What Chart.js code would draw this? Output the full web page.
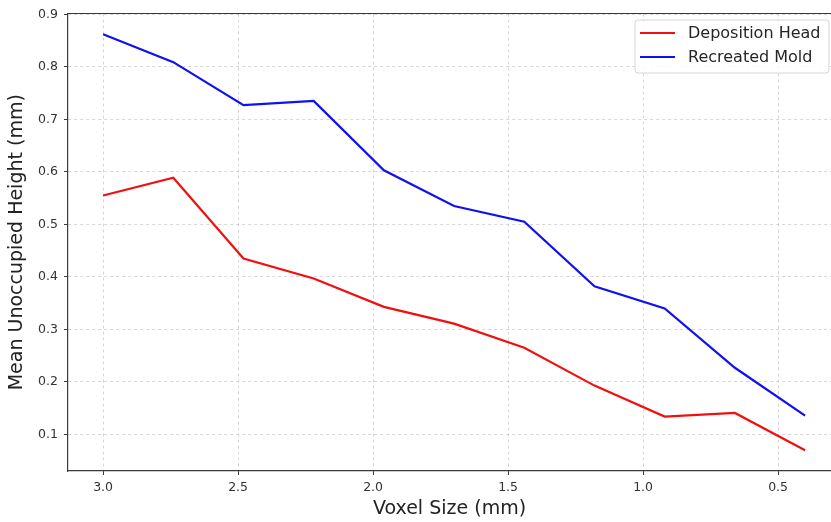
<!DOCTYPE html>
<html>
<head>
<meta charset="utf-8">
<script src="https://cdn.jsdelivr.net/npm/chart.js@4"></script>
<style>
  html, body { margin: 0; padding: 0; background: #fff; }
  #wrap { width: 831px; height: 522px; }
</style>
</head>
<body>
<div id="wrap"><canvas id="chart" width="831" height="522"></canvas></div>
<script>
// voxel sizes (mm), largest first
const voxelSizes = [3.0, 2.74, 2.48, 2.22, 1.96, 1.70, 1.44, 1.18, 0.92, 0.66, 0.40];
const depositionHead = [0.555, 0.589, 0.435, 0.397, 0.343, 0.311, 0.265, 0.193, 0.134, 0.141, 0.070];
const recreatedMold = [0.862, 0.809, 0.727, 0.735, 0.603, 0.535, 0.505, 0.382, 0.340, 0.227, 0.136];
const xTicks = [3.0, 2.5, 2.0, 1.5, 1.0, 0.5];
const yTicks = [0.1, 0.2, 0.3, 0.4, 0.5, 0.6, 0.7, 0.8, 0.9];

const FONT = 'DejaVu Sans';
const spineColor = '#3a3a3a';

const toPoints = (ys) => voxelSizes.map((x, i) => ({ x: x, y: ys[i] }));

// matplotlib style legend box in the top right corner of the plot
const boxLegend = {
  id: 'boxLegend',
  afterDraw(chart) {
    const ctx = chart.ctx;
    const x0 = 635, y0 = 20, w = 194, h = 53;
    ctx.save();
    ctx.beginPath();
    ctx.roundRect(x0, y0, w, h, 3);
    ctx.fillStyle = 'rgba(255,255,255,0.85)';
    ctx.fill();
    ctx.strokeStyle = '#d6d6d6';
    ctx.lineWidth = 1;
    ctx.stroke();
    chart.data.datasets.forEach((ds, i) => {
      const y = y0 + 13 + i * 24;
      ctx.beginPath();
      ctx.moveTo(640, y);
      ctx.lineTo(675, y);
      ctx.strokeStyle = ds.borderColor;
      ctx.lineWidth = 2.2;
      ctx.stroke();
      ctx.fillStyle = '#262626';
      ctx.font = '16px ' + FONT;
      ctx.textBaseline = 'middle';
      ctx.fillText(ds.label, 688, y + 1);
    });
    ctx.restore();
  }
};

// top spine
const topSpine = {
  id: 'topSpine',
  afterDraw(chart) {
    const { ctx, chartArea } = chart;
    ctx.save();
    ctx.strokeStyle = spineColor;
    ctx.lineWidth = 1.2;
    ctx.beginPath();
    ctx.moveTo(chartArea.left, chartArea.top);
    ctx.lineTo(chartArea.right, chartArea.top);
    ctx.stroke();
    ctx.restore();
  }
};

const gridOpts = {
  color: 'rgba(185,185,185,0.75)',
  lineWidth: 0.8,
  tickLength: 4,
  tickColor: spineColor,
  tickWidth: 1,
  tickBorderDash: []
};

new Chart(document.getElementById('chart'), {
  type: 'line',
  data: {
    datasets: [
      {
        label: 'Deposition Head',
        data: toPoints(depositionHead),
        borderColor: '#f01010',
        borderWidth: 2.2,
        pointRadius: 0,
        tension: 0
      },
      {
        label: 'Recreated Mold',
        data: toPoints(recreatedMold),
        borderColor: '#1010f0',
        borderWidth: 2.2,
        pointRadius: 0,
        tension: 0
      }
    ]
  },
  options: {
    responsive: false,
    animation: false,
    layout: { padding: { top: 12, right: 0, left: 0, bottom: 0 } },
    plugins: {
      legend: { display: false },
      tooltip: { enabled: false }
    },
    scales: {
      x: {
        type: 'linear',
        reverse: true,
        min: 0.304,
        max: 3.13,
        afterBuildTicks: (axis) => { axis.ticks = xTicks.map(v => ({ value: v })); },
        afterFit: (axis) => { axis.height = 51; },
        ticks: {
          color: '#333',
          font: { family: FONT, size: 12.5 },
          padding: 5,
          maxRotation: 0,
          callback: (v) => v.toFixed(1)
        },
        grid: gridOpts,
        border: { display: true, color: spineColor, width: 1.2, dash: [3, 3] },
        title: {
          display: true,
          text: 'Voxel Size (mm)',
          color: '#222',
          font: { family: FONT, size: 19 },
          padding: { top: 0, bottom: 2 }
        }
      },
      y: {
        type: 'linear',
        min: 0.0304,
        max: 0.9016,
        afterBuildTicks: (axis) => { axis.ticks = yTicks.map(v => ({ value: v })); },
        afterFit: (axis) => { axis.width = 68; },
        ticks: {
          color: '#333',
          font: { family: FONT, size: 12.5 },
          padding: 6,
          callback: (v) => v.toFixed(1)
        },
        grid: gridOpts,
        border: { display: true, color: spineColor, width: 1.2, dash: [3, 3] },
        title: {
          display: true,
          text: 'Mean Unoccupied Height (mm)',
          color: '#222',
          font: { family: FONT, size: 19 },
          padding: { top: 6, bottom: 0 }
        }
      }
    }
  },
  plugins: [boxLegend, topSpine]
});
</script>
</body>
</html>
